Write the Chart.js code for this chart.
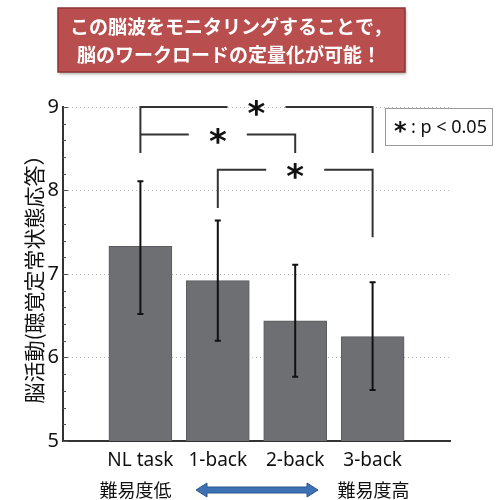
<!DOCTYPE html>
<html>
<head>
<meta charset="utf-8">
<script src="https://cdn.jsdelivr.net/npm/chart.js@4/dist/chart.umd.min.js"></script>
<style>
  html, body { margin: 0; padding: 0; background: #ffffff; }
  #wrap { position: relative; width: 501px; height: 500px; }
</style>
</head>
<body>
<div id="wrap"><canvas id="c" width="501" height="500"></canvas></div>
<script>
// Task conditions (empty slots pad the axis on both sides)
const categories = ['', 'NL task', '1-back', '2-back', '3-back', ''];
// Mean brain activity (auditory steady-state response)
const meanValues = [null, 7.33, 6.92, 6.44, 6.25, null];
// Error bar ends
const errLow  = [null, 6.52, 6.20, 5.77, 5.61, null];
const errHigh = [null, 8.11, 7.64, 7.11, 6.90, null];
// Y axis ticks
const yTicks = [5, 6, 7, 8, 9];

// Significance brackets: [from index, to index, bar level, left drop end, right drop end]
const brackets = [
  [1, 4, 9.00, 8.45, 8.45],
  [1, 3, 8.67, 8.67, 8.45],
  [2, 4, 8.25, 7.79, 7.44]
];

const JP = '"Noto Sans CJK JP", "Noto Sans", sans-serif';
const LAT = '"Noto Sans", "Open Sans", sans-serif';

const decorations = {
  id: 'decorations',
  afterDatasetsDraw(chart) {
    const ctx = chart.ctx;
    const xs = chart.scales.x, ys = chart.scales.y;
    ctx.save();

    // minor ticks along the inside of the y axis
    ctx.strokeStyle = '#555';
    ctx.lineWidth = 1;
    for (let v = 5; v <= 9.001; v += 0.2) {
      const y = Math.round(ys.getPixelForValue(v)) + 0.5;
      const major = Math.abs(v - Math.round(v)) < 0.01;
      ctx.beginPath();
      ctx.moveTo(xs.left, y);
      ctx.lineTo(xs.left + (major ? 5 : 3), y);
      ctx.stroke();
    }

    // error bars
    ctx.strokeStyle = '#111';
    ctx.lineWidth = 2;
    meanValues.forEach((v, i) => {
      if (v === null) return;
      const x = xs.getPixelForValue(i);
      const yl = ys.getPixelForValue(errLow[i]);
      const yh = ys.getPixelForValue(errHigh[i]);
      ctx.beginPath();
      ctx.moveTo(x, yl); ctx.lineTo(x, yh);
      ctx.moveTo(x - 3, yl); ctx.lineTo(x + 3, yl);
      ctx.moveTo(x - 3, yh); ctx.lineTo(x + 3, yh);
      ctx.stroke();
    });

    // significance brackets with asterisks
    ctx.strokeStyle = '#333';
    ctx.lineWidth = 2;
    const gap = 29;
    brackets.forEach(([a, b, lvl, dl, dr]) => {
      const x1 = xs.getPixelForValue(a), x2 = xs.getPixelForValue(b);
      const y = ys.getPixelForValue(lvl);
      const mid = (x1 + x2) / 2;
      ctx.beginPath();
      ctx.moveTo(x1, ys.getPixelForValue(dl));
      ctx.lineTo(x1, y);
      ctx.lineTo(mid - gap, y);
      ctx.moveTo(mid + gap, y);
      ctx.lineTo(x2, y);
      ctx.lineTo(x2, ys.getPixelForValue(dr));
      ctx.stroke();
      ctx.fillStyle = '#111';
      ctx.font = 'bold 34px "DejaVu Sans", sans-serif';
      ctx.textAlign = 'center';
      ctx.textBaseline = 'alphabetic';
      ctx.fillText('*', mid, y + 18);
    });

    // significance key
    ctx.strokeStyle = '#9a9a9a';
    ctx.lineWidth = 1;
    ctx.strokeRect(385.5, 108.5, 107, 37);
    ctx.fillStyle = '#111';
    ctx.textAlign = 'left';
    ctx.font = 'bold 24px "DejaVu Sans", sans-serif';
    ctx.fillText('*', 394, 139);
    ctx.font = '18px ' + LAT;
    ctx.textBaseline = 'middle';
    ctx.fillText(': p < 0.05', 411, 128);

    // headline box
    ctx.shadowColor = 'rgba(0,0,0,0.35)';
    ctx.shadowBlur = 3;
    ctx.shadowOffsetX = 1;
    ctx.shadowOffsetY = 2;
    ctx.fillStyle = '#b94e4e';
    ctx.fillRect(58, 8, 347, 64);
    ctx.shadowColor = 'transparent';
    ctx.strokeStyle = '#8e3434';
    ctx.lineWidth = 1.5;
    ctx.strokeRect(58, 8, 347, 64);
    ctx.fillStyle = '#ffffff';
    ctx.textAlign = 'center';
    ctx.font = 'bold 19px ' + JP;
    ctx.fillText('この脳波をモニタリングすることで，', 231, 27);
    ctx.fillText('脳のワークロードの定量化が可能！', 229, 55);

    // difficulty scale below the axis
    const xLow = xs.getPixelForValue(1), xHigh = xs.getPixelForValue(4);
    ctx.fillStyle = '#111';
    ctx.font = '18px ' + JP;
    ctx.fillText('難易度低', xLow - 5, 490);
    ctx.fillText('難易度高', xHigh + 1, 490);

    const ax1 = 196, ax2 = 318, ay = 490;
    ctx.beginPath();
    ctx.moveTo(ax1, ay);
    ctx.lineTo(ax1 + 11, ay - 7);
    ctx.lineTo(ax1 + 11, ay - 3);
    ctx.lineTo(ax2 - 11, ay - 3);
    ctx.lineTo(ax2 - 11, ay - 7);
    ctx.lineTo(ax2, ay);
    ctx.lineTo(ax2 - 11, ay + 7);
    ctx.lineTo(ax2 - 11, ay + 3);
    ctx.lineTo(ax1 + 11, ay + 3);
    ctx.lineTo(ax1 + 11, ay + 7);
    ctx.closePath();
    ctx.fillStyle = '#3c72b4';
    ctx.fill();
    ctx.strokeStyle = '#2a5690';
    ctx.lineWidth = 1;
    ctx.stroke();

    ctx.restore();
  }
};

new Chart(document.getElementById('c'), {
  type: 'bar',
  data: {
    labels: categories,
    datasets: [{
      data: meanValues,
      backgroundColor: '#6e6f73',
      borderColor: '#5b5c60',
      borderWidth: 1,
      barThickness: 63
    }]
  },
  options: {
    responsive: false,
    animation: false,
    layout: { padding: { left: 21, right: 51, top: 107, bottom: 0 } },
    plugins: { legend: { display: false }, tooltip: { enabled: false } },
    scales: {
      x: {
        type: 'category',
        offset: false,
        afterFit(s) { s.height = 59; },
        grid: { display: false, drawTicks: false },
        border: { display: true, color: '#333', width: 2 },
        ticks: {
          padding: 8,
          color: '#111',
          font: { family: LAT, size: 19 },
          maxRotation: 0,
          autoSkip: false
        }
      },
      y: {
        min: 5,
        max: 9,
        afterFit(s) { s.width = 42; },
        afterBuildTicks(s) { s.ticks = yTicks.map(v => ({ value: v })); },
        grid: {
          color: '#b8b8b8',
          lineWidth: 1,
          drawTicks: false
        },
        // dash applies to the grid lines (dotted)
        border: { display: true, color: '#333', width: 2, dash: [1, 3] },
        ticks: {
          padding: 4,
          color: '#111',
          font: { family: LAT, size: 20 }
        },
        title: {
          display: true,
          text: '脳活動(聴覚定常状態応答）',
          color: '#111',
          padding: { top: 0, bottom: 0 },
          font: { family: JP, size: 21 }
        }
      }
    }
  },
  plugins: [decorations]
});
</script>
</body>
</html>
